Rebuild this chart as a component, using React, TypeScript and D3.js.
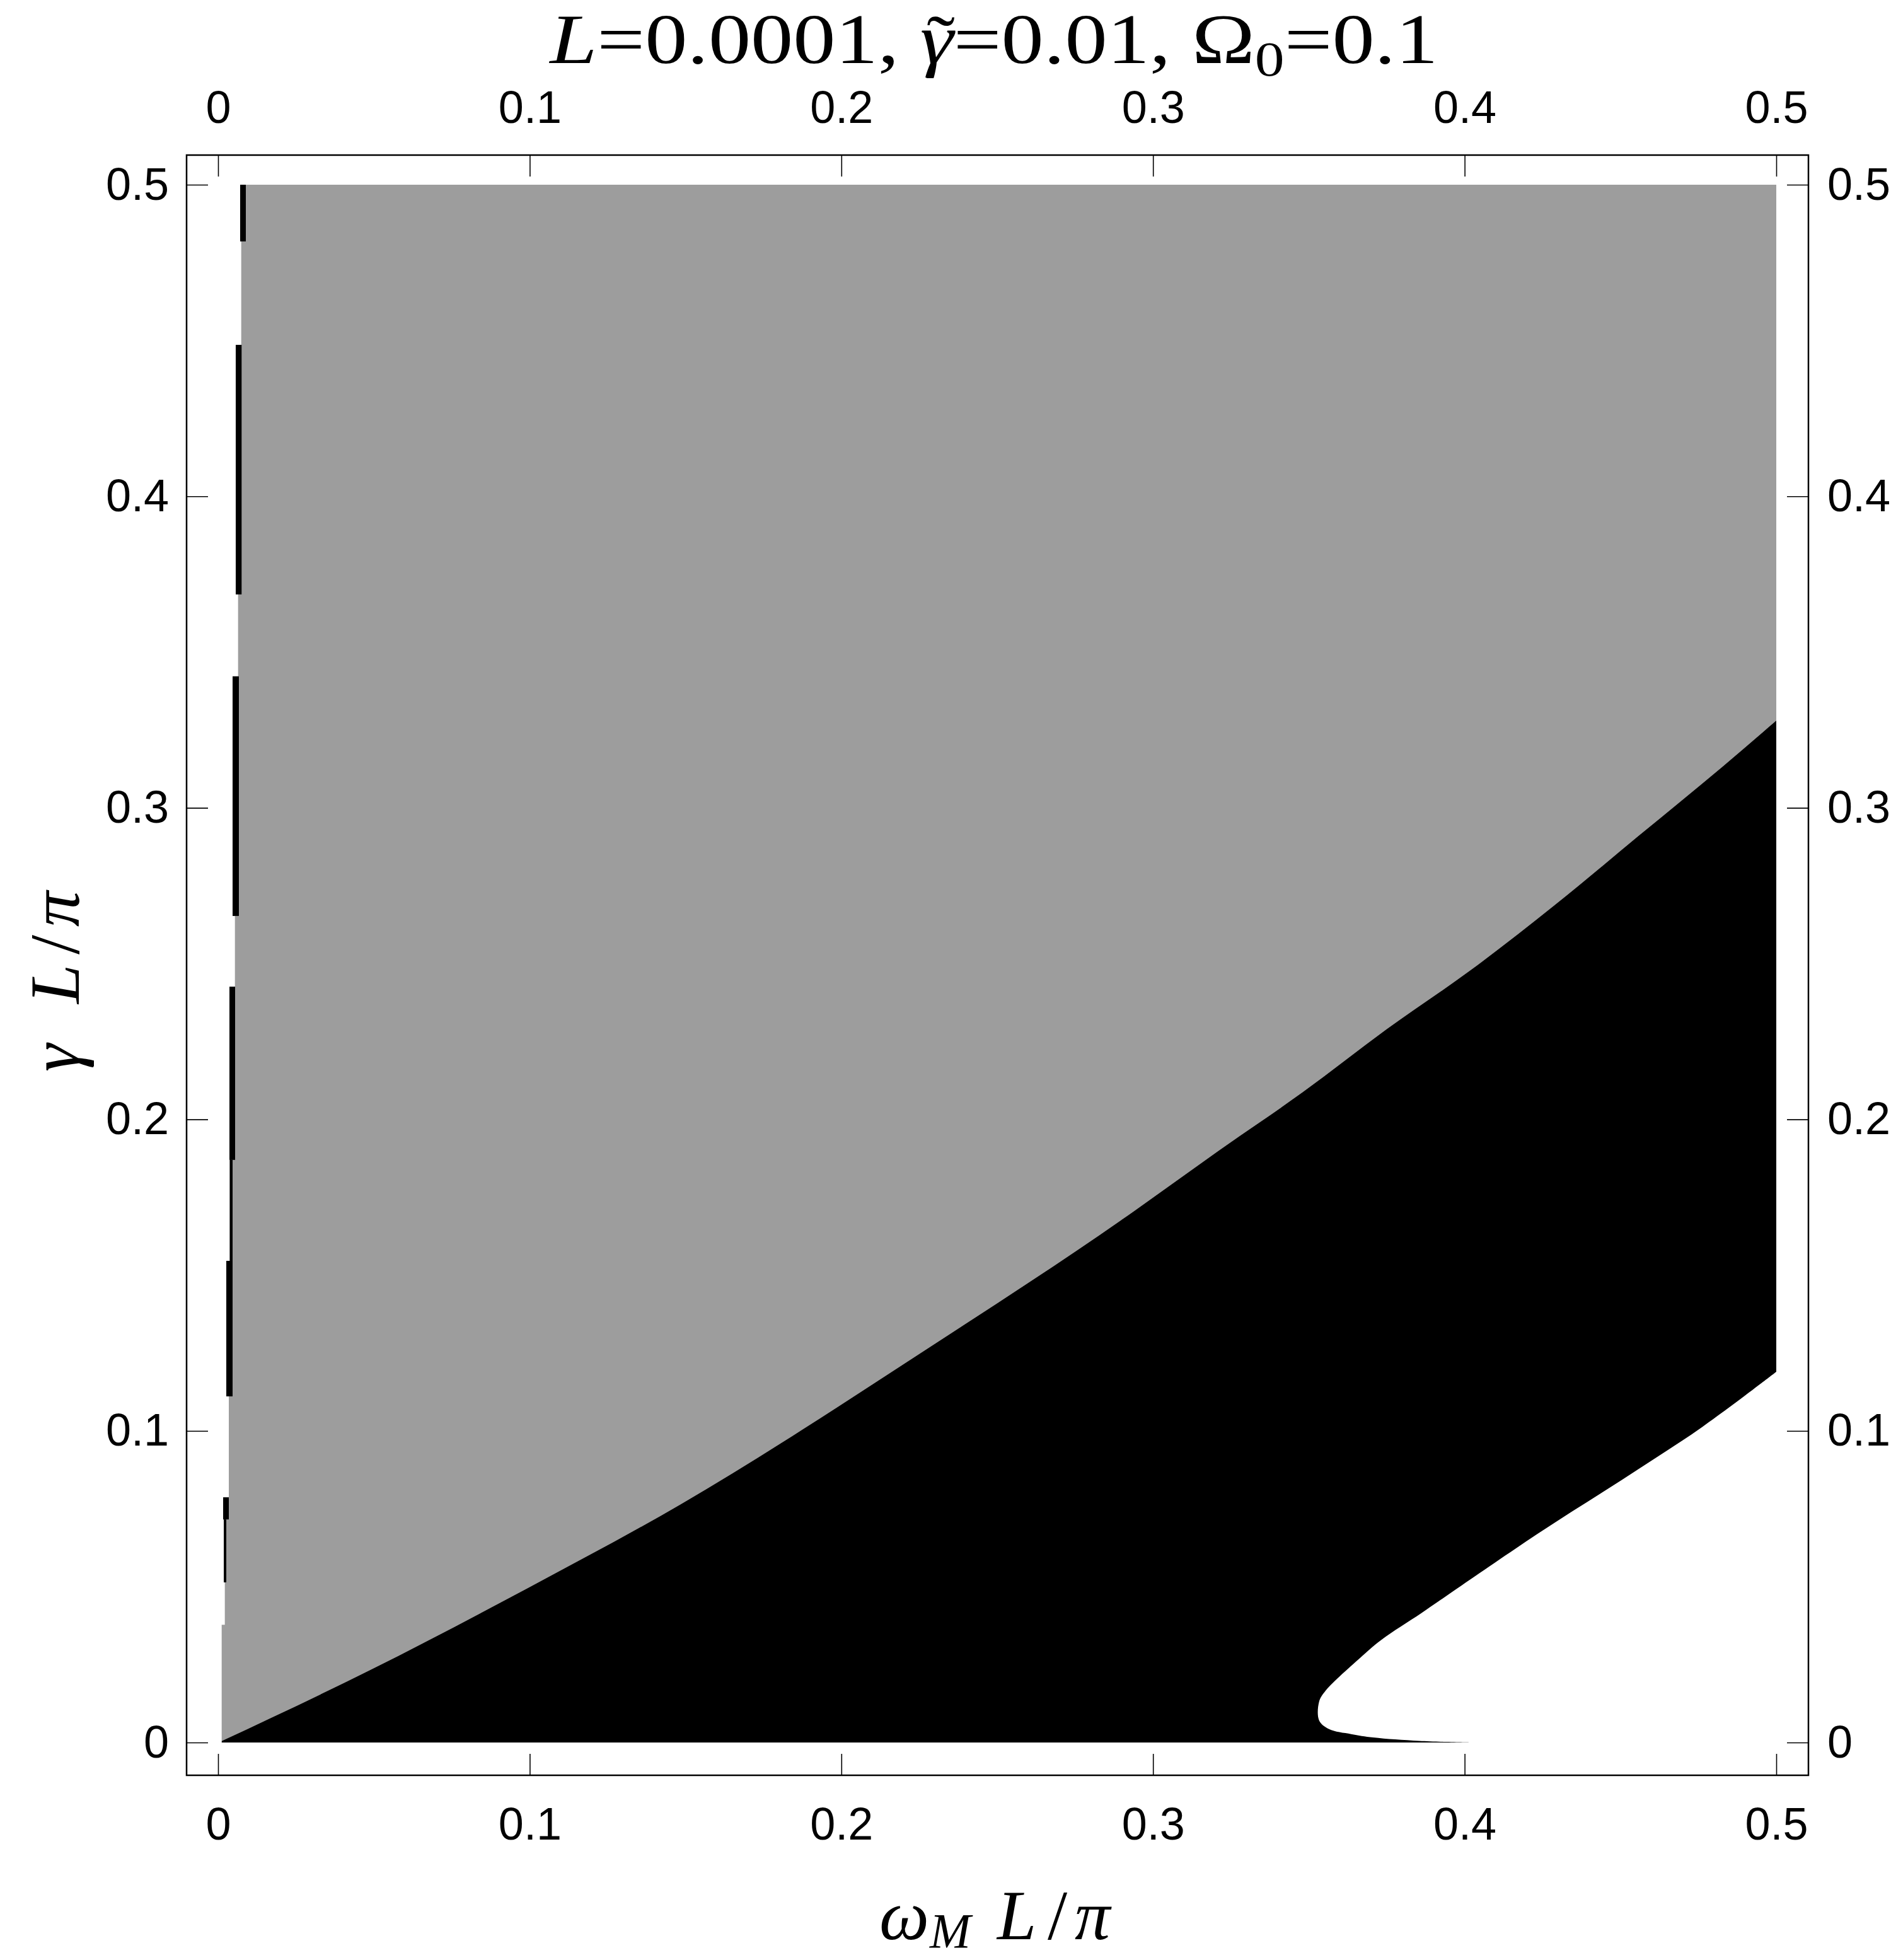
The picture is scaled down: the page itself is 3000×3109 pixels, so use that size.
import React, { useEffect, useRef } from "react";
import * as d3 from "d3";

// grey / black boundary (omega_M L/pi, gamma L/pi)
const upperX = [0.0012, 0.0489, 0.0994, 0.1485, 0.1993, 0.2116, 0.2941, 0.321, 0.348, 0.3749, 0.4018, 0.4288, 0.4557, 0.4826, 0.5];
const upperY = [0.0005, 0.0233, 0.0496, 0.0765, 0.108, 0.116, 0.1707, 0.1899, 0.2087, 0.2289, 0.2478, 0.2687, 0.2909, 0.3131, 0.328];

// black / white boundary, from the tip of the white tongue up to the right edge
const lowerX = [0.4016, 0.3855, 0.3707, 0.3636, 0.3565, 0.3533, 0.3533, 0.3552, 0.3655, 0.3732, 0.3862, 0.399, 0.4248, 0.4506, 0.4764, 0.5];
const lowerY = [0, 0.0005, 0.0016, 0.0027, 0.0043, 0.0071, 0.0131, 0.0164, 0.0263, 0.0329, 0.0416, 0.0504, 0.0679, 0.0844, 0.1014, 0.119];

// jagged strip near omega_M = 0: segment limits, white edge, start of grey
const stripY = [0.5, 0.4818, 0.4486, 0.3685, 0.3422, 0.2653, 0.2426, 0.187, 0.1546, 0.1111, 0.0787, 0.0716, 0.0514, 0.0378, 0];
const stripEdge = [0.00708, 0.00742, 0.00566, 0.00641, 0.00465, 0.0054, 0.00364, 0.00374, 0.00263, 0.00344, 0.00162, 0.00182, 0.00216, 0.00115];
const stripBlack = [0.0089, 0.00742, 0.00754, 0.00641, 0.00667, 0.0054, 0.00546, 0.00465, 0.00465, 0.00344, 0.00344, 0.00263, 0.00216, 0.00115];

const ticks = [0, 0.1, 0.2, 0.3, 0.4, 0.5];
const tickLabels = ["0", "0.1", "0.2", "0.3", "0.4", "0.5"];

const GREY = "#9d9d9d";
const SERIF = "'Liberation Serif', 'Times New Roman', serif";
const SANS = "'Liberation Sans', Arial, sans-serif";

export default function App() {
  const axRef = useRef<SVGGElement>(null);
  const titleRef = useRef<SVGGElement>(null);

  const width = 3000;
  const height = 3109;
  const x = d3.scaleLinear().domain([0, 0.5]).range([346, 2818]);
  const y = d3.scaleLinear().domain([0, 0.5]).range([2764, 293]);

  // frame (plot range padding)
  const fl = x(0) - 50;
  const fr = x(0.5) + 51;
  const ft = y(0.5) - 47;
  const fb = y(0) + 52;

  const upper: [number, number][] = upperX.map((v, i) => [v, upperY[i]]);
  const lower: [number, number][] = lowerX.map((v, i) => [v, lowerY[i]]);

  const lin = d3.line<[number, number]>().x(d => x(d[0])).y(d => y(d[1]));
  const smoothUpper = d3.line<[number, number]>().x(d => x(d[0])).y(d => y(d[1])).curve(d3.curveMonotoneX);
  const smoothLower = d3.line<[number, number]>().x(d => x(d[0])).y(d => y(d[1])).curve(d3.curveCatmullRom.alpha(0.5));
  const cont = (p: string | null) => "L" + (p || "").slice(1);

  // grey region: stepped left edge, curve, right edge, top
  const stepEdge: [number, number][] = [];
  stripEdge.forEach((e, i) => {
    stepEdge.push([e, stripY[i]]);
    stepEdge.push([e, stripY[i + 1]]);
  });
  const greyPath = lin(stepEdge) + cont(smoothUpper(upper)) + `L${x(0.5)},${y(0.5)}Z`;

  const blackPath =
    `M${x(stripEdge[stripEdge.length - 1])},${y(0)}` +
    cont(smoothUpper(upper)) +
    cont(smoothLower(lower.slice().reverse())) +
    "Z";

  useEffect(() => {
    const g = d3.select(axRef.current);
    g.selectAll("*").remove();
    const fmt = (d: any) => tickLabels[ticks.indexOf(d)];
    const style = (sel: any) => {
      sel.select(".domain").remove();
      sel.selectAll("line").attr("stroke", "#000").attr("stroke-width", 1.6);
      sel.selectAll("text")
        .attr("font-family", SANS)
        .attr("font-size", 72)
        .attr("fill", "#000");
    };
    g.append("g").attr("transform", `translate(0,${fb})`)
      .call(d3.axisBottom(x).tickValues(ticks).tickFormat(fmt).tickSize(-34).tickPadding(51))
      .call(style);
    g.append("g").attr("transform", `translate(0,${ft})`)
      .call(d3.axisTop(x).tickValues(ticks).tickFormat(fmt).tickSize(-34).tickPadding(51))
      .call(style);
    g.append("g").attr("transform", `translate(${fl},0)`)
      .call(d3.axisLeft(y).tickValues(ticks).tickFormat(fmt).tickSize(-34).tickPadding(28))
      .call(style);
    g.append("g").attr("transform", `translate(${fr},0)`)
      .call(d3.axisRight(y).tickValues(ticks).tickFormat(fmt).tickSize(-34).tickPadding(30))
      .call(style);

    // tilde over the gamma of the title
    const tg = d3.select(titleRef.current);
    tg.selectAll(".tilde").remove();
    const gam = tg.select<SVGTSpanElement>(".gam").node();
    if (gam) {
      const b = gam.getBBox();
      tg.append("text")
        .attr("class", "tilde")
        .attr("x", b.x + b.width * 0.58)
        .attr("y", 2)
        .attr("text-anchor", "middle")
        .attr("font-family", SERIF)
        .attr("font-size", 112)
        .text("\u02DC");
    }
  }, []);

  // title stretched horizontally to the width of the original
  const titleScale = 1.2;

  return (
    <svg width={width} height={height} style={{ position: "absolute", left: 0, top: 0, background: "#fff" }}>
      <path d={greyPath} fill={GREY} />
      <path d={blackPath} fill="#000" />
      {stripEdge.map((e, i) =>
        stripBlack[i] > e ? (
          <rect
            key={i}
            x={x(e)}
            y={y(stripY[i])}
            width={x(stripBlack[i]) - x(e)}
            height={y(stripY[i + 1]) - y(stripY[i])}
            fill="#000"
          />
        ) : null
      )}
      <rect x={fl} y={ft} width={fr - fl} height={fb - ft} fill="none" stroke="#000" strokeWidth={2.5} />
      <g ref={axRef} />

      <g ref={titleRef} transform={`translate(1577,100) scale(${titleScale},1)`}>
        <text x={0} y={0} fontFamily={SERIF} fontSize={112} textAnchor="middle" fill="#000">
          <tspan fontStyle="italic">L</tspan>
          <tspan>=0.0001, </tspan>
          <tspan className="gam" fontStyle="italic">γ</tspan>
          <tspan>=0.01, Ω</tspan>
          <tspan fontSize={78} dy={20}>0</tspan>
          <tspan dy={-20}>=0.1</tspan>
        </text>
      </g>

      <g fontFamily={SERIF} fontSize={112} fill="#000">
        <text x={1395} y={3076} fontStyle="italic">ω</text>
        <text x={1475} y={3089} fontStyle="italic" fontSize={78}>M</text>
        <text x={1582} y={3076} fontStyle="italic">L</text>
        <text x={1662} y={3076}>/</text>
        <text x={1705} y={3076} fontStyle="italic">π</text>
      </g>

      <g transform={`translate(125,1700) rotate(-90)`} fontFamily={SERIF} fontSize={112} fill="#000">
        <text x={0} y={0} fontStyle="italic">γ</text>
        <text x={108} y={0} fontStyle="italic">L</text>
        <text x={186} y={0}>/</text>
        <text x={230} y={0} fontStyle="italic">π</text>
      </g>
    </svg>
  );
}
